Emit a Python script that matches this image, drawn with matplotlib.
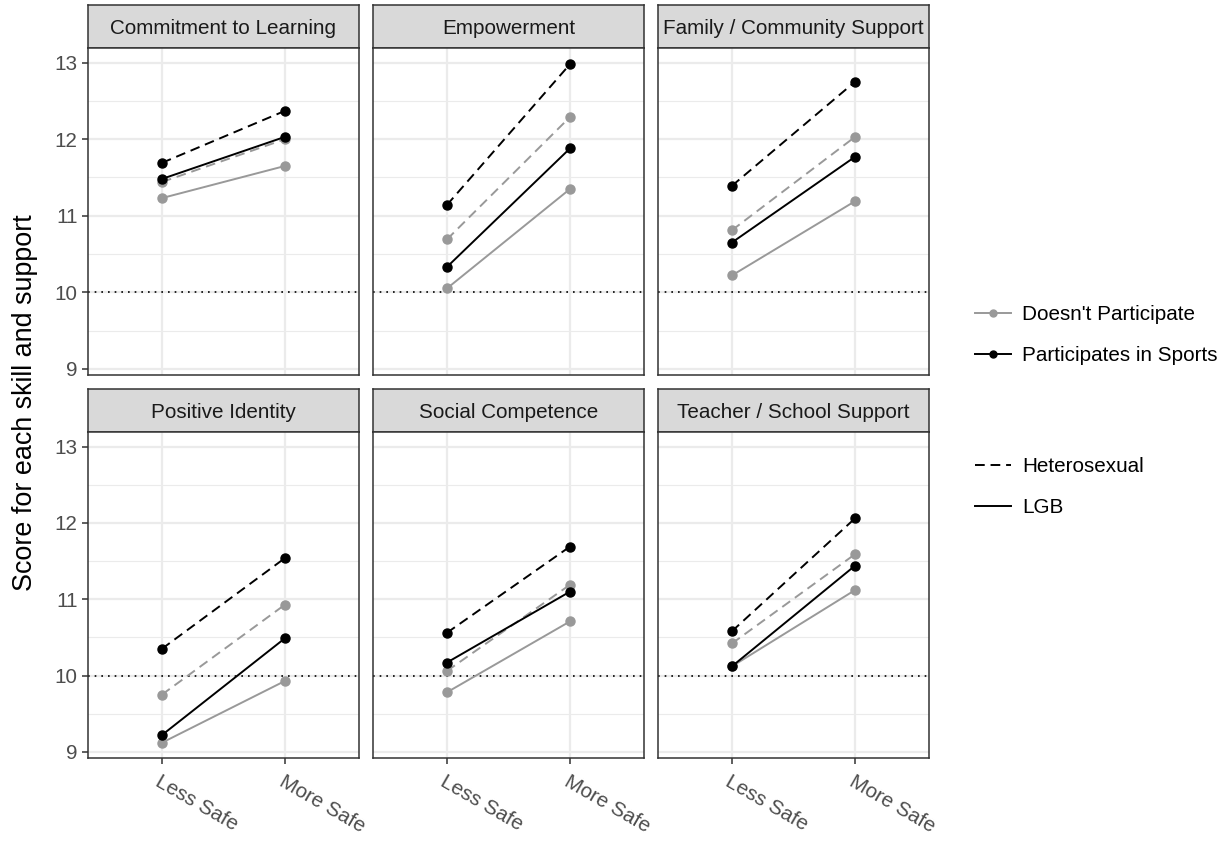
import matplotlib.pyplot as plt
from matplotlib.lines import Line2D

plt.rcParams["font.family"] = ["Liberation Sans", "DejaVu Sans"]

W, H = 1229, 841

facets = ["Commitment to Learning", "Empowerment", "Family / Community Support",
          "Positive Identity", "Social Competence", "Teacher / School Support"]
safety = ["Less Safe", "More Safe"]

# scores per facet
het_sports_less = [11.69, 11.14, 11.39, 10.35, 10.56, 10.58]
het_sports_more = [12.37, 12.98, 12.75, 11.54, 11.69, 12.06]
het_none_less = [11.44, 10.69, 10.81, 9.75, 10.06, 10.42]
het_none_more = [12.00, 12.29, 12.03, 10.93, 11.19, 11.59]
lgb_sports_less = [11.48, 10.33, 10.65, 9.22, 10.17, 10.12]
lgb_sports_more = [12.03, 11.88, 11.77, 10.49, 11.10, 11.44]
lgb_none_less = [11.23, 10.05, 10.22, 9.12, 9.78, 10.12]
lgb_none_more = [11.65, 11.35, 11.19, 9.93, 10.71, 11.12]

y_ticks = [9, 10, 11, 12, 13]
y_minor = [9.5, 10.5, 11.5, 12.5]

GREY = "#999999"
BLACK = "#000000"
BORDER = "#333333"
GRID = "#EBEBEB"
TICKCOL = "#4D4D4D"
FS = 14.9
LW = 1.4
MS = 6.5
DASH = (0, (5, 3))

fig = plt.figure(figsize=(W / 100, H / 100), dpi=100)


def px_axes(x0, y0, x1, y1):
    # pixel box (top-left origin) -> figure axes
    return fig.add_axes([x0 / W, 1 - y1 / H, (x1 - x0) / W, (y1 - y0) / H])


col_x = [(88, 359), (373, 644), (658, 929)]
rows = [((5, 48), (48, 375)), ((389, 432), (432, 758))]

for i, name in enumerate(facets):
    r, c = divmod(i, 3)
    (sy0, sy1), (py0, py1) = rows[r]
    x0, x1 = col_x[c]

    # strip
    sax = px_axes(x0, sy0, x1, sy1)
    sax.set_facecolor("#D9D9D9")
    sax.set_xticks([])
    sax.set_yticks([])
    for sp in sax.spines.values():
        sp.set_color(BORDER)
        sp.set_linewidth(1.1)
    sax.text(0.5, 0.45, name, ha="center", va="center", fontsize=FS,
             color="#1A1A1A", transform=sax.transAxes)

    ax = px_axes(x0, py0, x1, py1)
    ax.set_axisbelow(True)
    for yv in y_minor:
        ax.axhline(yv, color=GRID, lw=0.8, zorder=0)
    ax.grid(True, color=GRID, lw=1.6, zorder=0)
    ax.axhline(10, color="black", lw=1.2, ls=(0, (1, 3)), zorder=1)

    series = [
        (het_none_less, het_none_more, GREY, DASH),
        (lgb_none_less, lgb_none_more, GREY, "-"),
        (het_sports_less, het_sports_more, BLACK, DASH),
        (lgb_sports_less, lgb_sports_more, BLACK, "-"),
    ]
    for less, more, col, ls in series:
        ax.plot(safety, [less[i], more[i]], color=col, ls=ls, lw=LW,
                marker="o", ms=MS, zorder=3)

    ax.set_xlim(-0.6, 1.6)
    ax.set_ylim(8.92, 13.19)
    ax.set_yticks(y_ticks)
    for sp in ax.spines.values():
        sp.set_color(BORDER)
        sp.set_linewidth(1.1)
    ax.tick_params(colors=BORDER, labelcolor=TICKCOL, labelsize=FS,
                   length=4, width=1.1)
    if c != 0:
        ax.tick_params(axis="y", left=False, labelleft=False)
    if r == 0:
        ax.tick_params(axis="x", bottom=False, labelbottom=False)
    else:
        for lab in ax.get_xticklabels():
            lab.set_rotation(-30)
            lab.set_ha("left")
            lab.set_va("top")
            lab.set_rotation_mode("anchor")
        ax.tick_params(axis="x", pad=6)

fig.text(25 / W, 1 - 403 / H, "Score for each skill and support", rotation=90,
         ha="center", va="center", fontsize=19.4, color="black")

# legends
h1 = [Line2D([], [], color=GREY, lw=LW, marker="o", ms=5),
      Line2D([], [], color=BLACK, lw=LW, marker="o", ms=5)]
fig.legend(h1, ["Doesn't Participate", "Participates in Sports"],
           loc="upper left", bbox_to_anchor=(965 / W, 1 - 295 / H),
           frameon=False, fontsize=FS, handlelength=1.7,
           handletextpad=0.55, labelspacing=1.05, borderpad=0)
h2 = [Line2D([], [], color=BLACK, lw=LW, ls=DASH),
      Line2D([], [], color=BLACK, lw=LW)]
fig.legend(h2, ["Heterosexual", "LGB"],
           loc="upper left", bbox_to_anchor=(965 / W, 1 - 447 / H),
           frameon=False, fontsize=FS, handlelength=1.7,
           handletextpad=0.55, labelspacing=1.05, borderpad=0)

fig.savefig("out.png", dpi=100, facecolor="white")
